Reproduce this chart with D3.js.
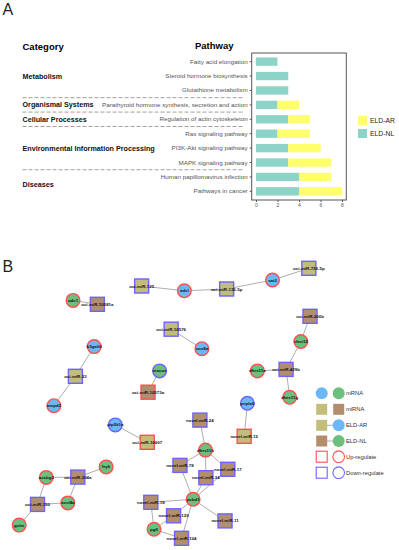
<!DOCTYPE html>
<html>
<head>
<meta charset="utf-8">
<script src="https://cdn.jsdelivr.net/npm/d3@7"></script>
<style>
body { margin: 0; background: #fff; }
svg { display: block; font-family: "Liberation Sans", Arial, sans-serif; }
</style>
</head>
<body>
<div id="chart"></div>
<script>
// ---- panel A data
const pathways = ["Fatty acid elongation", "Steroid hormone biosynthesis", "Glutathione metabolism",
    "Parathyroid hormone synthesis, secretion and action", "Regulation of actin cytoskeleton",
    "Ras signaling pathway", "PI3K-Akt signaling pathway", "MAPK signaling pathway",
    "Human papillomavirus infection", "Pathways in cancer"]
const eldNL = [2, 3, 3, 2, 3, 2, 3, 3, 4, 4]
const eldAR = [0, 0, 0, 2, 2, 3, 3, 4, 3, 4]
const categories = ["Metabolism", "Organismal Systems", "Cellular Processes",
    "Environmental Information Processing", "Diseases"]
const categorySize = [3, 1, 1, 3, 2]
const xTicks = [0, 2, 4, 6, 8]
const seriesKeys = ["ELD-NL", "ELD-AR"]
const seriesColors = {"ELD-NL": "#8dd3c7", "ELD-AR": "#ffff6b"}

// ---- panel B data: [id, type, group, regulation]
const networkNodes = [
    ["oci-miR-125", "miRNA", "AR", "down"], ["adsl", "mRNA", "AR", "up"],
    ["oci-miR-135-5p", "miRNA", "AR", "down"], ["sat2", "mRNA", "AR", "up"],
    ["oci-miR-729-5p", "miRNA", "AR", "down"], ["odc1", "mRNA", "NL", "up"],
    ["oci-miR-10581a", "miRNA", "NL", "down"], ["oci-miR-10576", "miRNA", "AR", "down"],
    ["cox8a", "mRNA", "AR", "up"], ["b3galt6", "mRNA", "AR", "up"],
    ["oci-miR-33", "miRNA", "AR", "down"], ["ampd2", "mRNA", "AR", "up"],
    ["mocos", "mRNA", "NL", "down"], ["oci-miR-10573a", "miRNA", "NL", "up"],
    ["pip5k1a", "mRNA", "AR", "down"], ["oci-miR-10607", "miRNA", "AR", "up"],
    ["oci-miR-200b", "miRNA", "NL", "down"], ["chst12", "mRNA", "NL", "up"],
    ["oci-miR-429b", "miRNA", "NL", "down"], ["dhrs11a", "mRNA", "NL", "up"],
    ["dhrs11g", "mRNA", "NL", "up"], ["pnpla6", "mRNA", "AR", "down"],
    ["novel-miR-15", "miRNA", "AR", "up"], ["novel-miR-24", "miRNA", "NL", "down"],
    ["dhrs11b", "mRNA", "NL", "up"], ["novel-miR-78", "miRNA", "NL", "down"],
    ["novel-miR-17", "miRNA", "NL", "down"], ["novel-miR-34", "miRNA", "NL", "down"],
    ["pcbd1", "mRNA", "NL", "up"], ["novel-miR-18", "miRNA", "NL", "down"],
    ["novel-miR-129", "miRNA", "NL", "down"], ["pgfl", "mRNA", "NL", "up"],
    ["novel-miR-104", "miRNA", "NL", "down"], ["novel-miR-11", "miRNA", "NL", "down"],
    ["fryk", "mRNA", "NL", "up"], ["acsbg2", "mRNA", "NL", "up"],
    ["oci-miR-204a", "miRNA", "NL", "down"], ["acsl4a", "mRNA", "NL", "up"],
    ["oci-miR-150", "miRNA", "NL", "down"], ["gclm", "mRNA", "NL", "up"]
]
const networkEdges = [
    ["oci-miR-125", "adsl"], ["adsl", "oci-miR-135-5p"], ["oci-miR-135-5p", "sat2"],
    ["sat2", "oci-miR-729-5p"], ["odc1", "oci-miR-10581a"], ["oci-miR-10576", "cox8a"],
    ["b3galt6", "oci-miR-33"], ["oci-miR-33", "ampd2"], ["mocos", "oci-miR-10573a"],
    ["pip5k1a", "oci-miR-10607"], ["oci-miR-200b", "chst12"], ["chst12", "oci-miR-429b"],
    ["dhrs11a", "oci-miR-429b"], ["oci-miR-429b", "dhrs11g"], ["pnpla6", "novel-miR-15"],
    ["novel-miR-24", "dhrs11b"], ["dhrs11b", "novel-miR-78"], ["dhrs11b", "novel-miR-17"],
    ["dhrs11b", "novel-miR-34"], ["pcbd1", "novel-miR-78"], ["pcbd1", "novel-miR-34"],
    ["pcbd1", "novel-miR-17"], ["pcbd1", "novel-miR-18"], ["pcbd1", "novel-miR-129"],
    ["pcbd1", "novel-miR-104"], ["pcbd1", "novel-miR-11"], ["pgfl", "novel-miR-18"],
    ["pgfl", "novel-miR-129"], ["pgfl", "novel-miR-104"], ["fryk", "oci-miR-204a"],
    ["acsbg2", "oci-miR-204a"], ["acsbg2", "oci-miR-150"], ["acsl4a", "oci-miR-204a"],
    ["acsl4a", "oci-miR-150"], ["gclm", "oci-miR-150"]
]
// node layout (grid units 0-100), as placed in the original network drawing
const nodeLayout = {
    "oci-miR-125": [35.5, 12.0], "adsl": [46.2, 13.6], "oci-miR-135-5p": [56.8, 13.0],
    "sat2": [68.3, 10.0], "oci-miR-729-5p": [77.4, 6.1], "odc1": [18.3, 16.8],
    "oci-miR-10581a": [24.4, 18.1], "oci-miR-10576": [42.9, 26.4], "cox8a": [50.6, 32.9],
    "b3galt6": [23.6, 32.2], "oci-miR-33": [18.9, 42.1], "ampd2": [13.5, 51.9],
    "mocos": [40.0, 40.3], "oci-miR-10573a": [37.1, 47.4], "pip5k1a": [28.9, 58.3],
    "oci-miR-10607": [36.9, 64.1], "oci-miR-200b": [77.7, 22.1], "chst12": [75.4, 30.5],
    "oci-miR-429b": [71.7, 39.8], "dhrs11a": [64.5, 40.3], "dhrs11g": [72.6, 49.1],
    "pnpla6": [62.0, 51.1], "novel-miR-15": [61.2, 62.1], "novel-miR-24": [50.1, 56.7],
    "dhrs11b": [51.5, 66.7], "novel-miR-78": [45.1, 71.8], "novel-miR-17": [57.1, 73.1],
    "novel-miR-34": [51.6, 75.9], "pcbd1": [48.4, 83.1], "novel-miR-18": [37.8, 84.1],
    "novel-miR-129": [43.5, 88.6], "pgfl": [38.6, 93.1], "novel-miR-104": [45.5, 96.1],
    "novel-miR-11": [56.4, 90.3], "fryk": [26.6, 72.3], "acsbg2": [11.6, 75.8],
    "oci-miR-204a": [19.5, 75.7], "acsl4a": [17.0, 84.3], "oci-miR-150": [9.4, 84.8],
    "gclm": [4.8, 91.7]
}
const fillColors = {mRNA: {AR: "#6cb8f7", NL: "#6cbf7d"}, miRNA: {AR: "#c2bd7b", NL: "#b38e6e"}}
const borderColors = {up: "#ff4f4f", down: "#6d63ff"}

const width = 399, height = 550
const svg = d3.select("#chart").append("svg").attr("width", width).attr("height", height)

// ================= Panel A =================
svg.append("text").attr("x", 2.5).attr("y", 15).attr("font-size", 16).attr("fill", "#222").text("A")
svg.append("text").attr("x", 22.5).attr("y", 49.5).attr("font-size", 9.5).attr("font-weight", "bold").text("Category")
svg.append("text").attr("x", 195).attr("y", 48.5).attr("font-size", 9.5).attr("font-weight", "bold").text("Pathway")

const x = d3.scaleLinear().domain([0, 8]).range([256, 342])
const y = d3.scaleBand().domain(pathways).range([53, 200]).paddingInner(0.42).paddingOuter(0.31)

const rows = pathways.map((p, i) => ({pathway: p, "ELD-NL": eldNL[i], "ELD-AR": eldAR[i]}))
const stacked = d3.stack().keys(seriesKeys)(rows)

svg.append("g").selectAll("g").data(stacked).join("g")
    .attr("fill", d => seriesColors[d.key])
    .selectAll("rect").data(d => d).join("rect")
    .attr("x", d => x(d[0]))
    .attr("y", d => y(d.data.pathway))
    .attr("width", d => x(d[1]) - x(d[0]))
    .attr("height", y.bandwidth())

// panel box
svg.append("rect").attr("x", x(-0.4)).attr("y", 53).attr("width", x(8.4) - x(-0.4)).attr("height", 147)
    .attr("fill", "none").attr("stroke", "#555").attr("stroke-width", 1)

const yAxis = svg.append("g").attr("transform", `translate(${x(-0.4)},0)`)
    .call(d3.axisLeft(y).tickSize(2).tickPadding(2))
yAxis.select(".domain").remove()
yAxis.selectAll("line").attr("stroke", "#555")
yAxis.selectAll("text").attr("font-size", 6.25).attr("fill", "#555").attr("font-family", "Liberation Sans, Arial, sans-serif")

const xAxis = svg.append("g").attr("transform", "translate(0,200)")
    .call(d3.axisBottom(x).tickValues(xTicks).tickSize(2).tickPadding(1.5))
xAxis.select(".domain").remove()
xAxis.selectAll("line").attr("stroke", "#555")
xAxis.selectAll("text").attr("font-size", 5).attr("fill", "#555").attr("font-family", "Liberation Sans, Arial, sans-serif")

// category labels and dashed separators
let start = 0
categories.forEach((c, i) => {
    const first = pathways[start], last = pathways[start + categorySize[i] - 1]
    const mid = (y(first) + y(last) + y.bandwidth()) / 2
    svg.append("text").attr("x", 22.5).attr("y", mid + 2.5).attr("font-size", 7.2)
        .attr("font-weight", "bold").attr("fill", "#111").text(c)
    start += categorySize[i]
    if (i < categories.length - 1) {
        const sep = y(pathways[start]) - y.step() * y.paddingInner() / 2
        svg.append("line").attr("x1", 22.5).attr("x2", 243).attr("y1", sep).attr("y2", sep)
            .attr("stroke", "#888").attr("stroke-width", 0.8).attr("stroke-dasharray", "4,2")
    }
})

// legend A
const legA = svg.append("g").attr("transform", "translate(358,116)")
;["ELD-AR", "ELD-NL"].forEach((k, i) => {
    legA.append("rect").attr("x", 0).attr("y", i * 13).attr("width", 9).attr("height", 9).attr("fill", seriesColors[k])
    legA.append("text").attr("x", 12).attr("y", i * 13 + 7).attr("font-size", 6.8).attr("fill", "#222").text(k)
})

// ================= Panel B =================
svg.append("text").attr("x", 2.5).attr("y", 271.5).attr("font-size", 16).attr("fill", "#222").text("B")

const nx = d3.scaleLinear().domain([0, 100]).range([0, 399])
const ny = d3.scaleLinear().domain([0, 100]).range([250, 550])
const nodes = networkNodes.map(([id, type, group, reg]) => ({id, type, group, reg,
    x: nx(nodeLayout[id][0]), y: ny(nodeLayout[id][1])}))
const byId = new Map(nodes.map(n => [n.id, n]))

svg.append("g").selectAll("line").data(networkEdges).join("line")
    .attr("x1", d => byId.get(d[0]).x).attr("y1", d => byId.get(d[0]).y)
    .attr("x2", d => byId.get(d[1]).x).attr("y2", d => byId.get(d[1]).y)
    .attr("stroke", "#999").attr("stroke-width", 0.8)

const nodeG = svg.append("g").selectAll("g").data(nodes).join("g")
    .attr("transform", d => `translate(${d.x},${d.y})`)

nodeG.filter(d => d.type === "mRNA").append("circle").attr("r", 6.8)
nodeG.filter(d => d.type === "miRNA").append("rect").attr("x", -7).attr("y", -7).attr("width", 14).attr("height", 14)
nodeG.selectAll("circle,rect")
    .attr("fill", d => fillColors[d.type][d.group])
    .attr("stroke", d => borderColors[d.reg]).attr("stroke-width", 1.4)

nodeG.append("text").attr("text-anchor", "middle").attr("dy", 1.5)
    .attr("font-size", 4.4).attr("font-weight", "bold").attr("fill", "#111").text(d => d.id)

// legend B
const legB = svg.append("g")
const lx1 = 321.7, lx2 = 338.7, ltx = 346
const legRows = [393.3, 409.3, 425.3, 441, 456.7, 472.7]
const legLabels = ["mRNA", "miRNA", "ELD-AR", "ELD-NL", "Up-regulate", "Down-regulate"]
legB.append("circle").attr("cx", lx1).attr("cy", legRows[0]).attr("r", 6).attr("fill", fillColors.mRNA.AR)
legB.append("circle").attr("cx", lx2).attr("cy", legRows[0]).attr("r", 6).attr("fill", fillColors.mRNA.NL)
legB.append("rect").attr("x", lx1 - 5.5).attr("y", legRows[1] - 5.5).attr("width", 11).attr("height", 11).attr("fill", fillColors.miRNA.AR)
legB.append("rect").attr("x", lx2 - 5.5).attr("y", legRows[1] - 5.5).attr("width", 11).attr("height", 11).attr("fill", fillColors.miRNA.NL)
;[["AR", legRows[2]], ["NL", legRows[3]]].forEach(([g, ly]) => {
    legB.append("line").attr("x1", lx1).attr("x2", lx2).attr("y1", ly).attr("y2", ly).attr("stroke", "#999").attr("stroke-width", 0.8)
    legB.append("rect").attr("x", lx1 - 5.5).attr("y", ly - 5.5).attr("width", 11).attr("height", 11).attr("fill", fillColors.miRNA[g])
    legB.append("circle").attr("cx", lx2).attr("cy", ly).attr("r", 6).attr("fill", fillColors.mRNA[g])
})
;[["up", legRows[4]], ["down", legRows[5]]].forEach(([r, ly]) => {
    legB.append("rect").attr("x", lx1 - 5.5).attr("y", ly - 5.5).attr("width", 11).attr("height", 11)
        .attr("fill", "none").attr("stroke", borderColors[r]).attr("stroke-width", 1.1)
    legB.append("circle").attr("cx", lx2).attr("cy", ly).attr("r", 5.8)
        .attr("fill", "none").attr("stroke", borderColors[r]).attr("stroke-width", 1.1)
})
legB.selectAll("text.lbl").data(legLabels).join("text").attr("class", "lbl")
    .attr("x", ltx).attr("y", (d, i) => legRows[i] + 2).attr("font-size", 5.8).attr("fill", "#333").text(d => d)
</script>
</body>
</html>
